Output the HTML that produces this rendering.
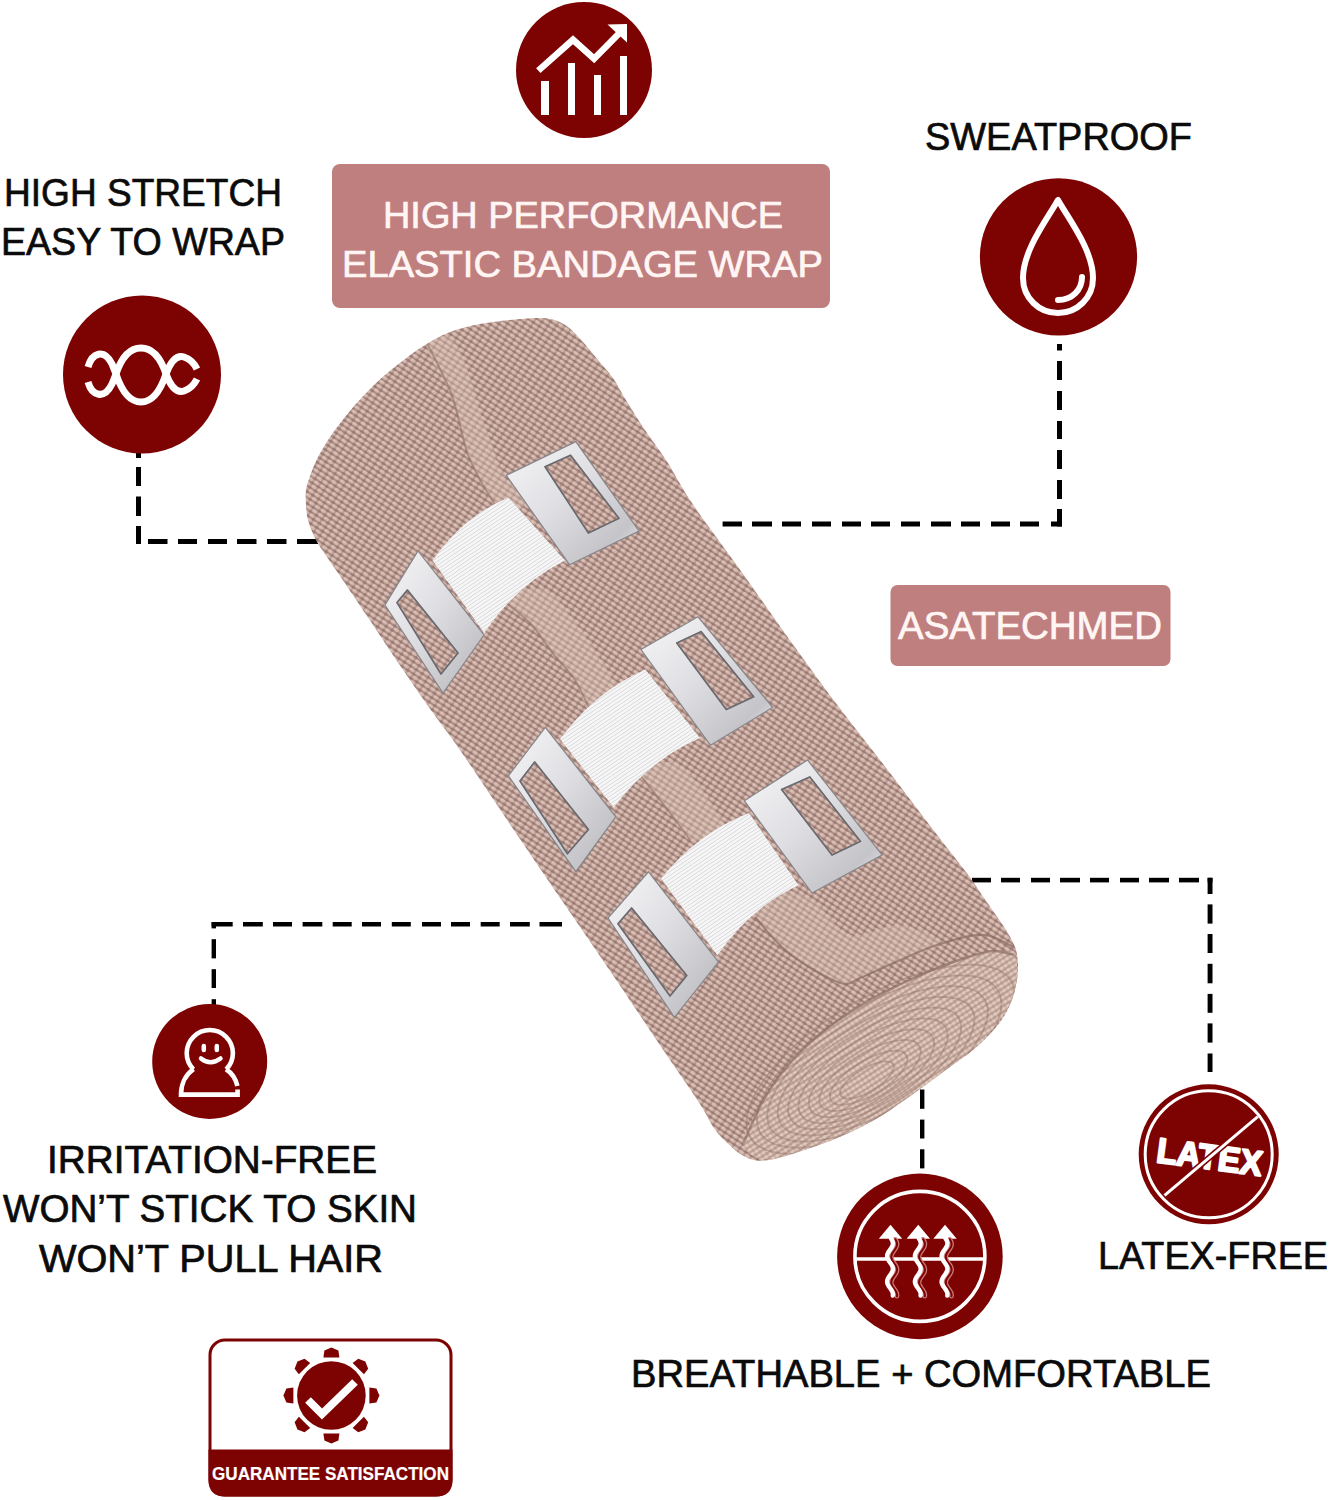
<!DOCTYPE html>
<html><head><meta charset="utf-8"><style>
html,body{margin:0;padding:0;background:#fff;width:1330px;height:1500px;overflow:hidden}
svg{display:block}
</style></head><body>
<svg width="1330" height="1500" viewBox="0 0 1330 1500">
<rect width="1330" height="1500" fill="#fff"/>
<rect x="136" y="440" width="5" height="18" fill="#000"/>
<rect x="136" y="467" width="5" height="19" fill="#000"/>
<rect x="136" y="496.5" width="5" height="19.5" fill="#000"/>
<rect x="136" y="526" width="5" height="18" fill="#000"/>
<rect x="148" y="539" width="19.5" height="5" fill="#000"/>
<rect x="178" y="539" width="19" height="5" fill="#000"/>
<rect x="208" y="539" width="19" height="5" fill="#000"/>
<rect x="237" y="539" width="19.5" height="5" fill="#000"/>
<rect x="267" y="539" width="19.5" height="5" fill="#000"/>
<rect x="297" y="539" width="21" height="5" fill="#000"/>
<rect x="1057" y="344" width="5" height="6.5" fill="#000"/>
<rect x="1057" y="361" width="5" height="19" fill="#000"/>
<rect x="1057" y="391" width="5" height="19" fill="#000"/>
<rect x="1057" y="421" width="5" height="18" fill="#000"/>
<rect x="1057" y="450" width="5" height="19" fill="#000"/>
<rect x="1057" y="480" width="5" height="19" fill="#000"/>
<rect x="1057" y="509" width="5" height="17.5" fill="#000"/>
<rect x="722.6" y="521.5" width="19.399999999999977" height="5.0" fill="#000"/>
<rect x="752" y="521.5" width="20" height="5.0" fill="#000"/>
<rect x="782" y="521.5" width="19" height="5.0" fill="#000"/>
<rect x="812" y="521.5" width="19" height="5.0" fill="#000"/>
<rect x="842" y="521.5" width="19" height="5.0" fill="#000"/>
<rect x="871" y="521.5" width="19" height="5.0" fill="#000"/>
<rect x="901" y="521.5" width="19" height="5.0" fill="#000"/>
<rect x="931" y="521.5" width="20" height="5.0" fill="#000"/>
<rect x="961" y="521.5" width="19" height="5.0" fill="#000"/>
<rect x="991" y="521.5" width="19" height="5.0" fill="#000"/>
<rect x="1020" y="521.5" width="19" height="5.0" fill="#000"/>
<rect x="1051" y="521.5" width="11" height="5.0" fill="#000"/>
<rect x="211.6" y="922" width="21.099999999999994" height="4.5" fill="#000"/>
<rect x="243" y="922" width="19.80000000000001" height="4.5" fill="#000"/>
<rect x="273" y="922" width="19" height="4.5" fill="#000"/>
<rect x="302.6" y="922" width="19.69999999999999" height="4.5" fill="#000"/>
<rect x="332.7" y="922" width="19.0" height="4.5" fill="#000"/>
<rect x="362" y="922" width="19" height="4.5" fill="#000"/>
<rect x="391.8" y="922" width="19.0" height="4.5" fill="#000"/>
<rect x="422" y="922" width="19" height="4.5" fill="#000"/>
<rect x="451" y="922" width="19" height="4.5" fill="#000"/>
<rect x="480.7" y="922" width="19.0" height="4.5" fill="#000"/>
<rect x="510" y="922" width="19.799999999999955" height="4.5" fill="#000"/>
<rect x="539.5" y="922" width="22.5" height="4.5" fill="#000"/>
<rect x="211.6" y="922" width="4.400000000000006" height="6.399999999999977" fill="#000"/>
<rect x="211.6" y="939.2" width="4.400000000000006" height="19.199999999999932" fill="#000"/>
<rect x="211.6" y="969.2" width="4.400000000000006" height="18.799999999999955" fill="#000"/>
<rect x="211.6" y="999.2" width="4.400000000000006" height="10.799999999999955" fill="#000"/>
<rect x="972" y="877.8" width="19" height="4.600000000000023" fill="#000"/>
<rect x="1001" y="877.8" width="19" height="4.600000000000023" fill="#000"/>
<rect x="1031" y="877.8" width="19" height="4.600000000000023" fill="#000"/>
<rect x="1060" y="877.8" width="20" height="4.600000000000023" fill="#000"/>
<rect x="1090" y="877.8" width="19" height="4.600000000000023" fill="#000"/>
<rect x="1120" y="877.8" width="19" height="4.600000000000023" fill="#000"/>
<rect x="1149" y="877.8" width="20" height="4.600000000000023" fill="#000"/>
<rect x="1179" y="877.8" width="20" height="4.600000000000023" fill="#000"/>
<rect x="1207.6" y="877.8" width="4.900000000000091" height="4.600000000000023" fill="#000"/>
<rect x="1207.6" y="877.8" width="4.900000000000091" height="16.200000000000045" fill="#000"/>
<rect x="1207.6" y="904.4" width="4.900000000000091" height="19.200000000000045" fill="#000"/>
<rect x="1207.6" y="934" width="4.900000000000091" height="19" fill="#000"/>
<rect x="1207.6" y="963.8" width="4.900000000000091" height="19.5" fill="#000"/>
<rect x="1207.6" y="993.9" width="4.900000000000091" height="18.899999999999977" fill="#000"/>
<rect x="1207.6" y="1023.4" width="4.900000000000091" height="19.199999999999932" fill="#000"/>
<rect x="1207.6" y="1053.5" width="4.900000000000091" height="18.5" fill="#000"/>
<rect x="920" y="1089.5" width="4.399999999999977" height="19.299999999999955" fill="#000"/>
<rect x="920" y="1119.6" width="4.399999999999977" height="18.90000000000009" fill="#000"/>
<rect x="920" y="1149.3" width="4.399999999999977" height="19.100000000000136" fill="#000"/>
<defs><pattern id="knit" width="7" height="5" patternUnits="userSpaceOnUse" patternTransform="rotate(33)"><rect width="7" height="5" fill="#977872"/><ellipse cx="3.5" cy="2.5" rx="3.3" ry="1.9" fill="#d3b5aa"/><ellipse cx="2.8" cy="2.0" rx="1.6" ry="0.8" fill="#e2cabe"/></pattern><pattern id="knit2" width="5" height="5" patternUnits="userSpaceOnUse" patternTransform="rotate(-33)"><rect width="5" height="5" fill="#b99c90"/><ellipse cx="2.5" cy="2.5" rx="2.4" ry="1.8" fill="#e0c8bc"/></pattern><pattern id="rib" width="4" height="3.2" patternUnits="userSpaceOnUse" patternTransform="rotate(-34)"><rect width="4" height="3.2" fill="#f6f6f7"/><rect y="2.4" width="4" height="0.8" fill="#d9d9dc"/></pattern><linearGradient id="metal" x1="0" y1="0" x2="1" y2="1"><stop offset="0" stop-color="#f6f6f8"/><stop offset="0.45" stop-color="#dfdfe3"/><stop offset="0.8" stop-color="#c4c4c9"/><stop offset="1" stop-color="#efeff2"/></linearGradient><clipPath id="silclip"><path d="M306.0,490.0 C306.5,486.0 307.6,483.2 309.0,479.0 C310.9,473.3 313.9,465.5 317.0,459.0 C320.2,452.5 324.0,446.2 328.0,440.0 C332.0,433.8 336.5,427.8 341.0,422.0 C345.5,416.2 350.1,410.6 355.0,405.0 C360.1,399.2 365.8,393.2 371.0,388.0 C375.7,383.3 379.8,379.5 385.0,375.0 C391.0,369.8 398.3,364.1 405.0,359.0 C411.6,354.1 417.8,349.4 425.0,345.0 C432.7,340.3 441.1,335.5 450.0,332.0 C459.4,328.4 469.9,326.0 480.0,324.0 C489.9,322.0 500.2,321.0 510.0,320.0 C519.5,319.0 530.1,317.9 538.0,318.0 C543.8,318.1 548.1,318.1 553.0,319.5 C558.1,321.0 563.3,323.6 568.0,327.0 C573.3,330.8 578.1,336.7 583.0,342.0 C588.1,347.6 593.0,354.0 598.0,360.0 C603.0,366.0 608.7,371.8 613.0,378.0 C617.1,383.8 619.3,389.1 623.5,396.0 C629.3,405.6 637.7,419.1 645.0,430.0 C651.9,440.4 659.0,449.1 666.0,460.0 C673.9,472.2 680.2,485.1 690.0,500.0 C703.1,519.9 721.8,544.3 738.8,568.0 C757.4,594.0 779.8,626.1 797.0,650.0 C810.5,668.8 820.0,682.0 833.5,700.0 C849.7,721.5 869.7,746.5 887.7,770.0 C905.8,793.5 926.8,821.5 941.8,841.0 C952.4,854.7 961.4,865.6 969.0,876.0 C974.9,884.1 979.1,890.9 984.0,898.0 C988.7,904.8 993.7,911.6 998.0,918.0 C1001.9,923.9 1005.9,929.4 1009.0,935.0 C1011.8,940.1 1014.5,945.0 1016.0,950.0 C1017.4,954.6 1017.8,959.2 1018.0,964.0 C1018.2,969.1 1017.9,974.4 1017.0,980.0 C1016.0,986.3 1014.4,993.6 1012.0,1000.0 C1009.7,1006.3 1006.6,1012.4 1003.0,1018.0 C999.3,1023.7 994.8,1028.8 990.0,1034.0 C984.9,1039.5 979.0,1045.0 973.0,1050.0 C967.0,1055.0 960.3,1059.3 954.0,1064.0 C947.7,1068.7 942.0,1072.9 935.0,1078.0 C926.4,1084.3 915.8,1092.2 906.0,1099.0 C896.2,1105.8 886.9,1112.8 876.0,1119.0 C864.1,1125.8 850.2,1132.5 837.0,1138.0 C824.1,1143.4 810.1,1148.2 798.0,1152.0 C787.7,1155.3 776.8,1158.8 769.0,1160.0 C763.9,1160.8 760.3,1161.2 756.0,1160.5 C751.3,1159.7 746.4,1157.6 742.0,1155.0 C737.3,1152.3 732.9,1148.4 728.6,1144.3 C723.9,1139.9 719.2,1135.2 715.0,1129.4 C710.1,1122.8 707.4,1115.7 701.5,1106.4 C691.8,1091.1 674.3,1066.5 661.0,1046.8 C648.1,1027.7 636.2,1009.6 623.0,990.0 C608.7,968.8 593.4,946.6 578.0,924.0 C561.6,900.0 545.8,877.1 527.4,850.0 C504.9,817.0 470.1,764.2 453.0,740.0 C444.4,727.8 440.7,723.8 433.0,713.0 C421.8,697.4 404.8,672.5 393.0,655.0 C383.3,640.8 375.8,629.1 367.0,616.0 C358.1,602.7 347.4,586.9 340.0,576.0 C334.9,568.5 331.1,563.2 327.0,557.0 C323.1,551.2 319.1,546.1 316.0,540.0 C312.8,533.8 309.6,526.3 308.0,520.0 C306.6,514.7 306.3,510.0 306.0,505.0 C305.7,500.0 305.4,494.6 306.0,490.0 Z"/></clipPath></defs>
<path d="M306.0,490.0 C306.5,486.0 307.6,483.2 309.0,479.0 C310.9,473.3 313.9,465.5 317.0,459.0 C320.2,452.5 324.0,446.2 328.0,440.0 C332.0,433.8 336.5,427.8 341.0,422.0 C345.5,416.2 350.1,410.6 355.0,405.0 C360.1,399.2 365.8,393.2 371.0,388.0 C375.7,383.3 379.8,379.5 385.0,375.0 C391.0,369.8 398.3,364.1 405.0,359.0 C411.6,354.1 417.8,349.4 425.0,345.0 C432.7,340.3 441.1,335.5 450.0,332.0 C459.4,328.4 469.9,326.0 480.0,324.0 C489.9,322.0 500.2,321.0 510.0,320.0 C519.5,319.0 530.1,317.9 538.0,318.0 C543.8,318.1 548.1,318.1 553.0,319.5 C558.1,321.0 563.3,323.6 568.0,327.0 C573.3,330.8 578.1,336.7 583.0,342.0 C588.1,347.6 593.0,354.0 598.0,360.0 C603.0,366.0 608.7,371.8 613.0,378.0 C617.1,383.8 619.3,389.1 623.5,396.0 C629.3,405.6 637.7,419.1 645.0,430.0 C651.9,440.4 659.0,449.1 666.0,460.0 C673.9,472.2 680.2,485.1 690.0,500.0 C703.1,519.9 721.8,544.3 738.8,568.0 C757.4,594.0 779.8,626.1 797.0,650.0 C810.5,668.8 820.0,682.0 833.5,700.0 C849.7,721.5 869.7,746.5 887.7,770.0 C905.8,793.5 926.8,821.5 941.8,841.0 C952.4,854.7 961.4,865.6 969.0,876.0 C974.9,884.1 979.1,890.9 984.0,898.0 C988.7,904.8 993.7,911.6 998.0,918.0 C1001.9,923.9 1005.9,929.4 1009.0,935.0 C1011.8,940.1 1014.5,945.0 1016.0,950.0 C1017.4,954.6 1017.8,959.2 1018.0,964.0 C1018.2,969.1 1017.9,974.4 1017.0,980.0 C1016.0,986.3 1014.4,993.6 1012.0,1000.0 C1009.7,1006.3 1006.6,1012.4 1003.0,1018.0 C999.3,1023.7 994.8,1028.8 990.0,1034.0 C984.9,1039.5 979.0,1045.0 973.0,1050.0 C967.0,1055.0 960.3,1059.3 954.0,1064.0 C947.7,1068.7 942.0,1072.9 935.0,1078.0 C926.4,1084.3 915.8,1092.2 906.0,1099.0 C896.2,1105.8 886.9,1112.8 876.0,1119.0 C864.1,1125.8 850.2,1132.5 837.0,1138.0 C824.1,1143.4 810.1,1148.2 798.0,1152.0 C787.7,1155.3 776.8,1158.8 769.0,1160.0 C763.9,1160.8 760.3,1161.2 756.0,1160.5 C751.3,1159.7 746.4,1157.6 742.0,1155.0 C737.3,1152.3 732.9,1148.4 728.6,1144.3 C723.9,1139.9 719.2,1135.2 715.0,1129.4 C710.1,1122.8 707.4,1115.7 701.5,1106.4 C691.8,1091.1 674.3,1066.5 661.0,1046.8 C648.1,1027.7 636.2,1009.6 623.0,990.0 C608.7,968.8 593.4,946.6 578.0,924.0 C561.6,900.0 545.8,877.1 527.4,850.0 C504.9,817.0 470.1,764.2 453.0,740.0 C444.4,727.8 440.7,723.8 433.0,713.0 C421.8,697.4 404.8,672.5 393.0,655.0 C383.3,640.8 375.8,629.1 367.0,616.0 C358.1,602.7 347.4,586.9 340.0,576.0 C334.9,568.5 331.1,563.2 327.0,557.0 C323.1,551.2 319.1,546.1 316.0,540.0 C312.8,533.8 309.6,526.3 308.0,520.0 C306.6,514.7 306.3,510.0 306.0,505.0 C305.7,500.0 305.4,494.6 306.0,490.0 Z" fill="url(#knit)"/>
<g clip-path="url(#silclip)">
<path d="M743.5,1142.8 C743.1,1133.1 756.1,1112.5 764.0,1099.0 C771.5,1086.2 779.5,1075.0 789.5,1063.6 C800.5,1051.1 814.6,1038.3 827.8,1027.8 C840.2,1017.9 852.1,1010.1 866.0,1002.0 C881.5,993.0 901.0,983.8 917.0,976.7 C930.6,970.6 942.6,965.6 955.6,961.3 C968.3,957.1 983.2,951.3 994.0,951.0 C1001.7,950.8 1010.2,951.0 1014.0,955.0 C1017.8,959.0 1017.2,968.0 1017.0,975.0 C1016.8,982.7 1014.9,991.5 1012.0,999.0 C1009.2,1006.5 1005.2,1012.8 1000.0,1020.0 C993.5,1029.0 984.5,1039.2 975.0,1048.0 C964.7,1057.6 952.4,1065.4 940.0,1075.0 C925.9,1085.9 910.7,1099.1 895.0,1110.0 C879.1,1121.1 861.6,1132.8 845.0,1141.0 C830.0,1148.4 813.7,1155.0 800.0,1158.0 C789.2,1160.4 778.9,1161.0 770.0,1160.0 C762.6,1159.2 754.5,1157.5 750.0,1154.0 C746.5,1151.2 743.7,1147.8 743.5,1142.8 Z" fill="url(#knit2)"/>
<ellipse cx="882.0" cy="1060.0" rx="152.0" ry="62.0" transform="rotate(-31 880 1062)" fill="none" stroke="#98786f" stroke-width="1.8" opacity="0.5"/>
<ellipse cx="879.5" cy="1061.2" rx="138.5" ry="56.4" transform="rotate(-31 880 1062)" fill="none" stroke="#98786f" stroke-width="1.8" opacity="0.5"/>
<ellipse cx="877.0" cy="1062.4" rx="125.0" ry="50.8" transform="rotate(-31 880 1062)" fill="none" stroke="#98786f" stroke-width="1.8" opacity="0.5"/>
<ellipse cx="874.5" cy="1063.6" rx="111.5" ry="45.2" transform="rotate(-31 880 1062)" fill="none" stroke="#98786f" stroke-width="1.8" opacity="0.5"/>
<ellipse cx="872.0" cy="1064.8" rx="98.0" ry="39.6" transform="rotate(-31 880 1062)" fill="none" stroke="#98786f" stroke-width="1.8" opacity="0.5"/>
<ellipse cx="869.5" cy="1066.0" rx="84.5" ry="34.0" transform="rotate(-31 880 1062)" fill="none" stroke="#98786f" stroke-width="1.8" opacity="0.5"/>
<ellipse cx="867.0" cy="1067.2" rx="71.0" ry="28.4" transform="rotate(-31 880 1062)" fill="none" stroke="#98786f" stroke-width="1.8" opacity="0.5"/>
<ellipse cx="864.5" cy="1068.4" rx="57.5" ry="22.8" transform="rotate(-31 880 1062)" fill="none" stroke="#98786f" stroke-width="1.8" opacity="0.5"/>
<ellipse cx="862.0" cy="1069.6" rx="44.0" ry="17.2" transform="rotate(-31 880 1062)" fill="none" stroke="#98786f" stroke-width="1.8" opacity="0.5"/>
<ellipse cx="859.5" cy="1070.8" rx="30.5" ry="11.6" transform="rotate(-31 880 1062)" fill="none" stroke="#98786f" stroke-width="1.8" opacity="0.5"/>
<path d="M743.5,1142.8 C750.3,1128.2 756.1,1112.5 764.0,1099.0 C771.5,1086.2 779.5,1075.0 789.5,1063.6 C800.5,1051.1 814.6,1038.3 827.8,1027.8 C840.2,1017.9 852.1,1010.1 866.0,1002.0 C881.5,993.0 901.0,983.8 917.0,976.7 C930.6,970.6 942.6,965.6 955.6,961.3 C968.3,957.1 983.2,951.3 994.0,951.0 C1001.7,950.8 1007.3,953.7 1014.0,955.0 " fill="none" stroke="#8d6e66" stroke-width="2.5" opacity="0.7"/>
<path d="M428.0,345.0 C424.7,354.4 446.5,380.2 452.0,395.0 C456.1,406.1 457.3,415.0 460.0,425.0 C462.7,435.0 464.3,445.2 468.0,455.0 C471.9,465.2 477.6,475.4 483.0,485.0 C488.3,494.4 492.2,509.5 500.0,512.0 C507.8,514.5 529.0,505.6 530.0,500.0 C531.0,494.3 511.5,487.3 505.0,478.0 C497.8,467.7 494.7,453.0 490.0,440.0 C485.1,426.4 480.6,411.8 476.0,398.0 C471.6,384.5 468.6,369.0 463.0,358.0 C458.5,349.2 453.3,337.6 447.0,336.0 C441.4,334.6 430.0,339.2 428.0,345.0 Z" fill="#dec6b8" opacity="0.38"/>
<path d="M428.0,345.0 C436.0,361.7 446.5,380.2 452.0,395.0 C456.1,406.1 457.3,415.0 460.0,425.0 C462.7,435.0 464.3,445.2 468.0,455.0 C471.9,465.2 477.6,475.4 483.0,485.0 C488.3,494.4 494.3,503.0 500.0,512.0 " fill="none" stroke="#8f7068" stroke-width="2" opacity="0.6"/>
<path d="M500.0,598.0 C498.5,603.5 521.2,613.7 530.0,623.0 C538.7,632.1 545.1,643.3 552.7,653.0 C560.1,662.3 568.7,670.4 575.0,680.0 C581.1,689.4 581.9,705.7 590.0,710.0 C598.4,714.4 621.9,710.8 625.0,705.0 C627.7,699.9 617.4,688.2 613.0,680.0 C608.5,671.6 603.7,663.8 598.0,655.0 C591.3,644.7 583.6,632.6 575.0,622.0 C566.0,610.9 557.3,594.1 545.0,590.0 C532.4,585.8 501.6,592.0 500.0,598.0 Z" fill="#dec6b8" opacity="0.38"/>
<path d="M500.0,598.0 C510.0,606.3 521.2,613.7 530.0,623.0 C538.7,632.1 545.1,643.3 552.7,653.0 C560.1,662.3 568.7,670.4 575.0,680.0 C581.1,689.4 585.0,700.0 590.0,710.0 " fill="none" stroke="#8f7068" stroke-width="2" opacity="0.6"/>
<path d="M640.0,775.0 C638.6,780.3 650.5,788.1 656.0,795.0 C661.8,802.4 668.2,810.4 674.0,818.0 C679.6,825.4 682.5,837.4 690.0,840.0 C698.7,843.0 722.2,836.6 725.0,830.0 C727.5,824.2 716.9,813.2 712.0,805.0 C706.9,796.5 701.7,787.2 695.0,780.0 C688.4,772.9 680.7,763.2 672.0,762.0 C662.5,760.7 641.6,768.8 640.0,775.0 Z" fill="#dec6b8" opacity="0.38"/>
<path d="M640.0,775.0 C645.3,781.7 650.5,788.1 656.0,795.0 C661.8,802.4 668.2,810.4 674.0,818.0 C679.6,825.4 684.7,832.7 690.0,840.0 " fill="none" stroke="#8f7068" stroke-width="2" opacity="0.6"/>
<path d="M745.0,905.0 C744.1,908.7 750.8,912.1 755.0,917.0 C761.9,925.0 772.9,939.0 783.0,948.0 C792.6,956.6 803.3,963.9 814.0,970.0 C824.3,975.8 837.5,984.0 846.0,984.0 C851.6,984.0 854.2,980.5 860.0,978.0 C869.6,973.8 885.0,966.6 898.0,961.0 C911.6,955.2 939.8,950.0 940.0,944.0 C940.2,938.0 914.4,926.8 900.0,925.0 C884.6,923.1 864.6,939.1 850.0,935.0 C835.3,930.9 825.0,907.5 812.0,900.0 C801.5,894.0 790.8,889.4 780.0,890.0 C768.5,890.6 746.4,899.2 745.0,905.0 Z" fill="#dec6b8" opacity="0.35"/>
<path d="M755.0,917.0 C764.3,927.3 772.9,939.0 783.0,948.0 C792.6,956.6 803.3,963.9 814.0,970.0 C824.3,975.8 837.5,984.0 846.0,984.0 C851.6,984.0 854.2,980.5 860.0,978.0 C869.6,973.8 885.0,966.6 898.0,961.0 C911.6,955.2 925.5,948.3 940.0,944.0 C954.5,939.6 971.6,933.7 985.0,935.0 C996.5,936.2 1005.7,943.7 1016.0,948.0 " fill="none" stroke="#8a6b63" stroke-width="2.2" opacity="0.7"/>
</g>
<path d="M432.6,560.5 Q463.5,516.0 508.4,497.4 L565,560.5 Q517.6,583.8 484.2,633 Z" fill="url(#rib)"/>
<path d="M560,739 Q595.6,691.2 645.3,669.5 L700,738 Q649.9,759.7 613.7,807.4 Z" fill="url(#rib)"/>
<path d="M661,878.6 Q698.0,832.8 749,813 L798.5,885.3 Q750.9,907.3 717.3,955.3 Z" fill="url(#rib)"/>
<path d="M506.3,475.3 L575.8,441.6 L639,531 L569.5,564.7 Z M545,466.8 L570.5,455.3 L619,518.4 L588.4,533 Z" fill="url(#metal)" fill-rule="evenodd" stroke="#85858a" stroke-width="1.2"/>
<path d="M545,466.8 L570.5,455.3 L619,518.4 L588.4,533 Z" fill="none" stroke="#6a6a70" stroke-width="1.6" stroke-linejoin="round"/>
<path d="M418,551 L484,635 L443,693 L385,605 Z M397,602.6 L407.4,590 L458,653 L441,674 Z" fill="url(#metal)" fill-rule="evenodd" stroke="#85858a" stroke-width="1.2"/>
<path d="M397,602.6 L407.4,590 L458,653 L441,674 Z" fill="none" stroke="#6a6a70" stroke-width="1.6" stroke-linejoin="round"/>
<path d="M641,649.5 L698,616.8 L772.6,707.4 L710.5,745.3 Z M676.8,643 L701,631.6 L753.7,696.8 L726.3,709.5 Z" fill="url(#metal)" fill-rule="evenodd" stroke="#85858a" stroke-width="1.2"/>
<path d="M676.8,643 L701,631.6 L753.7,696.8 L726.3,709.5 Z" fill="none" stroke="#6a6a70" stroke-width="1.6" stroke-linejoin="round"/>
<path d="M545.3,727.4 L615.8,816.8 L575.8,871.6 L508.4,775.8 Z M520,781 L534.7,762 L588.4,829.5 L567.4,853.7 Z" fill="url(#metal)" fill-rule="evenodd" stroke="#85858a" stroke-width="1.2"/>
<path d="M520,781 L534.7,762 L588.4,829.5 L567.4,853.7 Z" fill="none" stroke="#6a6a70" stroke-width="1.6" stroke-linejoin="round"/>
<path d="M744.4,800.8 L807.5,760 L882,855 L812,893 Z M781.6,789.5 L809.8,777 L860.5,841.4 L832,855 Z" fill="url(#metal)" fill-rule="evenodd" stroke="#85858a" stroke-width="1.2"/>
<path d="M781.6,789.5 L809.8,777 L860.5,841.4 L832,855 Z" fill="none" stroke="#6a6a70" stroke-width="1.6" stroke-linejoin="round"/>
<path d="M648.5,871.8 L718.4,962 L674.4,1017.3 L608,918 Z M618,923.7 L631.6,908 L686.8,975.6 L670,996 Z" fill="url(#metal)" fill-rule="evenodd" stroke="#85858a" stroke-width="1.2"/>
<path d="M618,923.7 L631.6,908 L686.8,975.6 L670,996 Z" fill="none" stroke="#6a6a70" stroke-width="1.6" stroke-linejoin="round"/>
<circle cx="584" cy="70" r="68" fill="#7d0303"/>
<rect x="541" y="81" width="8" height="34" fill="#fff"/>
<rect x="568" y="63" width="7" height="52" fill="#fff"/>
<rect x="594" y="75" width="7" height="40" fill="#fff"/>
<rect x="620" y="56" width="7" height="59" fill="#fff"/>
<polyline points="538.3,70.6 573,39.8 594.1,58.8 619,33.5" fill="none" stroke="#fff" stroke-width="6.6" stroke-linejoin="miter"/>
<path d="M607.5,24.5 L627,24 L627,42.5 Z" fill="#fff"/>
<circle cx="142" cy="374.5" r="79" fill="#7d0303"/>
<path d="M88,367 C92,353 104,348 112,364 L116,374 C122,392 130,402 141,402 C152,402 160,392 166,374 C172,358 178,355 184,357 C190,359 194,363 197,369" fill="none" stroke="#fff" stroke-width="7"/>
<path d="M88,382 C92,396 104,400 112,384 L116,374 C122,356 130,348 141,348 C152,348 160,356 166,374 C172,390 178,393 184,391 C190,389 194,385 197,379" fill="none" stroke="#fff" stroke-width="7"/>
<circle cx="1058.5" cy="256.8" r="78.6" fill="#7d0303"/>
<path d="M1058,200 C1048,218 1023,250 1023,278 C1023,298 1039,313 1058,313 C1077,313 1093,298 1093,278 C1093,250 1068,218 1058,200 Z" fill="none" stroke="#fff" stroke-width="6" stroke-linejoin="round"/>
<path d="M1082,277 C1082,290 1072,300 1058,300" fill="none" stroke="#fff" stroke-width="6" stroke-linecap="round"/>
<circle cx="209.7" cy="1061.5" r="57.5" fill="#7d0303"/>
<path d="M193.4,1069.4 A23.1,23.1 0 1 1 226.2,1069.4" fill="none" stroke="#fff" stroke-width="4.6"/>
<path d="M193.6,1069.2 C185,1075 181,1085 181,1094.6 L237.6,1094.6 L237.6,1089.5" fill="none" stroke="#fff" stroke-width="4.6" stroke-linejoin="miter"/>
<path d="M226,1069.2 C232,1073 236,1080 237.4,1086" fill="none" stroke="#fff" stroke-width="4.6"/>
<line x1="203.8" y1="1046" x2="203.8" y2="1050" stroke="#fff" stroke-width="4.5" stroke-linecap="round"/>
<line x1="216.8" y1="1046" x2="216.8" y2="1050" stroke="#fff" stroke-width="4.5" stroke-linecap="round"/>
<path d="M201,1058.5 Q210.5,1066 220.5,1058.5" fill="none" stroke="#fff" stroke-width="4.5" stroke-linecap="round"/>
<circle cx="1208.7" cy="1154.3" r="70" fill="#7d0303"/>
<circle cx="1208.7" cy="1154.3" r="63.5" fill="none" stroke="#fff" stroke-width="3"/>
<line x1="1257.8" y1="1116.6" x2="1164.6" y2="1195.4" stroke="#fff" stroke-width="3"/>
<text x="0" y="0" transform="translate(1155.5 1162) rotate(7.5)" font-family="Liberation Sans" font-weight="bold" font-size="35" fill="#fff" stroke="#fff" stroke-width="2.2" stroke-linejoin="round" textLength="106" lengthAdjust="spacingAndGlyphs">LATEX</text>
<line x1="1257.8" y1="1116.6" x2="1164.6" y2="1195.4" stroke="#7d0303" stroke-width="6"/>
<line x1="1257.8" y1="1116.6" x2="1164.6" y2="1195.4" stroke="#fff" stroke-width="3"/>
<circle cx="919.9" cy="1256.4" r="82.8" fill="#7d0303"/>
<circle cx="919.9" cy="1256.4" r="65" fill="none" stroke="#fff" stroke-width="3.6"/>
<line x1="855" y1="1259" x2="985" y2="1259" stroke="#fff" stroke-width="3.6"/>
<path d="M878.8,1238.8 L890.5,1224.8 L902.2,1238.8 Z" fill="#fff"/>
<path d="M891.05,1238.50 L891.68,1239.50 L892.20,1240.50 L892.60,1241.50 L892.83,1242.50 L892.90,1243.50 L892.79,1244.50 L892.51,1245.50 L892.08,1246.50 L891.53,1247.50 L890.88,1248.50 L890.18,1249.50 L889.47,1250.50 L888.79,1251.50 L888.18,1252.50 L887.69,1253.50 L887.33,1254.50 L887.13,1255.50 L887.11,1256.50 L887.26,1257.50 L887.58,1258.50 L888.05,1259.50 L888.63,1260.50 L889.29,1261.50 L890.00,1262.50 L890.71,1263.50 L891.37,1264.50 L891.95,1265.50 L892.42,1266.50 L892.74,1267.50 L892.89,1268.50 L892.87,1269.50 L892.67,1270.50 L892.31,1271.50 L891.82,1272.50 L891.21,1273.50 L890.53,1274.50 L889.82,1275.50 L889.12,1276.50 L888.47,1277.50 L887.92,1278.50 L887.49,1279.50 L887.21,1280.50 L887.10,1281.50 L887.17,1282.50 L887.40,1283.50 L887.80,1284.50 L888.32,1285.50 L888.95,1286.50 L889.64,1287.50 L890.36,1288.50 L891.05,1289.50 L891.68,1290.50 L892.20,1291.50 L892.60,1292.50 L892.83,1293.50 L892.90,1294.50 L892.79,1295.50" transform="translate(4.2,0.8)" fill="none" stroke="#c97a7a" stroke-width="4.6" stroke-linecap="round"/>
<path d="M891.05,1238.50 L891.68,1239.50 L892.20,1240.50 L892.60,1241.50 L892.83,1242.50 L892.90,1243.50 L892.79,1244.50 L892.51,1245.50 L892.08,1246.50 L891.53,1247.50 L890.88,1248.50 L890.18,1249.50 L889.47,1250.50 L888.79,1251.50 L888.18,1252.50 L887.69,1253.50 L887.33,1254.50 L887.13,1255.50 L887.11,1256.50 L887.26,1257.50 L887.58,1258.50 L888.05,1259.50 L888.63,1260.50 L889.29,1261.50 L890.00,1262.50 L890.71,1263.50 L891.37,1264.50 L891.95,1265.50 L892.42,1266.50 L892.74,1267.50 L892.89,1268.50 L892.87,1269.50 L892.67,1270.50 L892.31,1271.50 L891.82,1272.50 L891.21,1273.50 L890.53,1274.50 L889.82,1275.50 L889.12,1276.50 L888.47,1277.50 L887.92,1278.50 L887.49,1279.50 L887.21,1280.50 L887.10,1281.50 L887.17,1282.50 L887.40,1283.50 L887.80,1284.50 L888.32,1285.50 L888.95,1286.50 L889.64,1287.50 L890.36,1288.50 L891.05,1289.50 L891.68,1290.50 L892.20,1291.50 L892.60,1292.50 L892.83,1293.50 L892.90,1294.50 L892.79,1295.50" transform="translate(4.2,0.8)" fill="none" stroke="#7d0303" stroke-width="2" stroke-linecap="round"/>
<path d="M891.05,1238.50 L891.68,1239.50 L892.20,1240.50 L892.60,1241.50 L892.83,1242.50 L892.90,1243.50 L892.79,1244.50 L892.51,1245.50 L892.08,1246.50 L891.53,1247.50 L890.88,1248.50 L890.18,1249.50 L889.47,1250.50 L888.79,1251.50 L888.18,1252.50 L887.69,1253.50 L887.33,1254.50 L887.13,1255.50 L887.11,1256.50 L887.26,1257.50 L887.58,1258.50 L888.05,1259.50 L888.63,1260.50 L889.29,1261.50 L890.00,1262.50 L890.71,1263.50 L891.37,1264.50 L891.95,1265.50 L892.42,1266.50 L892.74,1267.50 L892.89,1268.50 L892.87,1269.50 L892.67,1270.50 L892.31,1271.50 L891.82,1272.50 L891.21,1273.50 L890.53,1274.50 L889.82,1275.50 L889.12,1276.50 L888.47,1277.50 L887.92,1278.50 L887.49,1279.50 L887.21,1280.50 L887.10,1281.50 L887.17,1282.50 L887.40,1283.50 L887.80,1284.50 L888.32,1285.50 L888.95,1286.50 L889.64,1287.50 L890.36,1288.50 L891.05,1289.50 L891.68,1290.50 L892.20,1291.50 L892.60,1292.50 L892.83,1293.50 L892.90,1294.50 L892.79,1295.50" fill="none" stroke="#fff" stroke-width="4.4" stroke-linecap="round" stroke-linejoin="round"/>
<path d="M906.5999999999999,1238.8 L918.3,1224.8 L930.0,1238.8 Z" fill="#fff"/>
<path d="M918.85,1238.50 L919.48,1239.50 L920.00,1240.50 L920.40,1241.50 L920.63,1242.50 L920.70,1243.50 L920.59,1244.50 L920.31,1245.50 L919.88,1246.50 L919.33,1247.50 L918.68,1248.50 L917.98,1249.50 L917.27,1250.50 L916.59,1251.50 L915.98,1252.50 L915.49,1253.50 L915.13,1254.50 L914.93,1255.50 L914.91,1256.50 L915.06,1257.50 L915.38,1258.50 L915.85,1259.50 L916.43,1260.50 L917.09,1261.50 L917.80,1262.50 L918.51,1263.50 L919.17,1264.50 L919.75,1265.50 L920.22,1266.50 L920.54,1267.50 L920.69,1268.50 L920.67,1269.50 L920.47,1270.50 L920.11,1271.50 L919.62,1272.50 L919.01,1273.50 L918.33,1274.50 L917.62,1275.50 L916.92,1276.50 L916.27,1277.50 L915.72,1278.50 L915.29,1279.50 L915.01,1280.50 L914.90,1281.50 L914.97,1282.50 L915.20,1283.50 L915.60,1284.50 L916.12,1285.50 L916.75,1286.50 L917.44,1287.50 L918.16,1288.50 L918.85,1289.50 L919.48,1290.50 L920.00,1291.50 L920.40,1292.50 L920.63,1293.50 L920.70,1294.50 L920.59,1295.50" transform="translate(4.2,0.8)" fill="none" stroke="#c97a7a" stroke-width="4.6" stroke-linecap="round"/>
<path d="M918.85,1238.50 L919.48,1239.50 L920.00,1240.50 L920.40,1241.50 L920.63,1242.50 L920.70,1243.50 L920.59,1244.50 L920.31,1245.50 L919.88,1246.50 L919.33,1247.50 L918.68,1248.50 L917.98,1249.50 L917.27,1250.50 L916.59,1251.50 L915.98,1252.50 L915.49,1253.50 L915.13,1254.50 L914.93,1255.50 L914.91,1256.50 L915.06,1257.50 L915.38,1258.50 L915.85,1259.50 L916.43,1260.50 L917.09,1261.50 L917.80,1262.50 L918.51,1263.50 L919.17,1264.50 L919.75,1265.50 L920.22,1266.50 L920.54,1267.50 L920.69,1268.50 L920.67,1269.50 L920.47,1270.50 L920.11,1271.50 L919.62,1272.50 L919.01,1273.50 L918.33,1274.50 L917.62,1275.50 L916.92,1276.50 L916.27,1277.50 L915.72,1278.50 L915.29,1279.50 L915.01,1280.50 L914.90,1281.50 L914.97,1282.50 L915.20,1283.50 L915.60,1284.50 L916.12,1285.50 L916.75,1286.50 L917.44,1287.50 L918.16,1288.50 L918.85,1289.50 L919.48,1290.50 L920.00,1291.50 L920.40,1292.50 L920.63,1293.50 L920.70,1294.50 L920.59,1295.50" transform="translate(4.2,0.8)" fill="none" stroke="#7d0303" stroke-width="2" stroke-linecap="round"/>
<path d="M918.85,1238.50 L919.48,1239.50 L920.00,1240.50 L920.40,1241.50 L920.63,1242.50 L920.70,1243.50 L920.59,1244.50 L920.31,1245.50 L919.88,1246.50 L919.33,1247.50 L918.68,1248.50 L917.98,1249.50 L917.27,1250.50 L916.59,1251.50 L915.98,1252.50 L915.49,1253.50 L915.13,1254.50 L914.93,1255.50 L914.91,1256.50 L915.06,1257.50 L915.38,1258.50 L915.85,1259.50 L916.43,1260.50 L917.09,1261.50 L917.80,1262.50 L918.51,1263.50 L919.17,1264.50 L919.75,1265.50 L920.22,1266.50 L920.54,1267.50 L920.69,1268.50 L920.67,1269.50 L920.47,1270.50 L920.11,1271.50 L919.62,1272.50 L919.01,1273.50 L918.33,1274.50 L917.62,1275.50 L916.92,1276.50 L916.27,1277.50 L915.72,1278.50 L915.29,1279.50 L915.01,1280.50 L914.90,1281.50 L914.97,1282.50 L915.20,1283.50 L915.60,1284.50 L916.12,1285.50 L916.75,1286.50 L917.44,1287.50 L918.16,1288.50 L918.85,1289.50 L919.48,1290.50 L920.00,1291.50 L920.40,1292.50 L920.63,1293.50 L920.70,1294.50 L920.59,1295.50" fill="none" stroke="#fff" stroke-width="4.4" stroke-linecap="round" stroke-linejoin="round"/>
<path d="M933.3,1238.8 L945,1224.8 L956.7,1238.8 Z" fill="#fff"/>
<path d="M945.55,1238.50 L946.18,1239.50 L946.70,1240.50 L947.10,1241.50 L947.33,1242.50 L947.40,1243.50 L947.29,1244.50 L947.01,1245.50 L946.58,1246.50 L946.03,1247.50 L945.38,1248.50 L944.68,1249.50 L943.97,1250.50 L943.29,1251.50 L942.68,1252.50 L942.19,1253.50 L941.83,1254.50 L941.63,1255.50 L941.61,1256.50 L941.76,1257.50 L942.08,1258.50 L942.55,1259.50 L943.13,1260.50 L943.79,1261.50 L944.50,1262.50 L945.21,1263.50 L945.87,1264.50 L946.45,1265.50 L946.92,1266.50 L947.24,1267.50 L947.39,1268.50 L947.37,1269.50 L947.17,1270.50 L946.81,1271.50 L946.32,1272.50 L945.71,1273.50 L945.03,1274.50 L944.32,1275.50 L943.62,1276.50 L942.97,1277.50 L942.42,1278.50 L941.99,1279.50 L941.71,1280.50 L941.60,1281.50 L941.67,1282.50 L941.90,1283.50 L942.30,1284.50 L942.82,1285.50 L943.45,1286.50 L944.14,1287.50 L944.86,1288.50 L945.55,1289.50 L946.18,1290.50 L946.70,1291.50 L947.10,1292.50 L947.33,1293.50 L947.40,1294.50 L947.29,1295.50" transform="translate(4.2,0.8)" fill="none" stroke="#c97a7a" stroke-width="4.6" stroke-linecap="round"/>
<path d="M945.55,1238.50 L946.18,1239.50 L946.70,1240.50 L947.10,1241.50 L947.33,1242.50 L947.40,1243.50 L947.29,1244.50 L947.01,1245.50 L946.58,1246.50 L946.03,1247.50 L945.38,1248.50 L944.68,1249.50 L943.97,1250.50 L943.29,1251.50 L942.68,1252.50 L942.19,1253.50 L941.83,1254.50 L941.63,1255.50 L941.61,1256.50 L941.76,1257.50 L942.08,1258.50 L942.55,1259.50 L943.13,1260.50 L943.79,1261.50 L944.50,1262.50 L945.21,1263.50 L945.87,1264.50 L946.45,1265.50 L946.92,1266.50 L947.24,1267.50 L947.39,1268.50 L947.37,1269.50 L947.17,1270.50 L946.81,1271.50 L946.32,1272.50 L945.71,1273.50 L945.03,1274.50 L944.32,1275.50 L943.62,1276.50 L942.97,1277.50 L942.42,1278.50 L941.99,1279.50 L941.71,1280.50 L941.60,1281.50 L941.67,1282.50 L941.90,1283.50 L942.30,1284.50 L942.82,1285.50 L943.45,1286.50 L944.14,1287.50 L944.86,1288.50 L945.55,1289.50 L946.18,1290.50 L946.70,1291.50 L947.10,1292.50 L947.33,1293.50 L947.40,1294.50 L947.29,1295.50" transform="translate(4.2,0.8)" fill="none" stroke="#7d0303" stroke-width="2" stroke-linecap="round"/>
<path d="M945.55,1238.50 L946.18,1239.50 L946.70,1240.50 L947.10,1241.50 L947.33,1242.50 L947.40,1243.50 L947.29,1244.50 L947.01,1245.50 L946.58,1246.50 L946.03,1247.50 L945.38,1248.50 L944.68,1249.50 L943.97,1250.50 L943.29,1251.50 L942.68,1252.50 L942.19,1253.50 L941.83,1254.50 L941.63,1255.50 L941.61,1256.50 L941.76,1257.50 L942.08,1258.50 L942.55,1259.50 L943.13,1260.50 L943.79,1261.50 L944.50,1262.50 L945.21,1263.50 L945.87,1264.50 L946.45,1265.50 L946.92,1266.50 L947.24,1267.50 L947.39,1268.50 L947.37,1269.50 L947.17,1270.50 L946.81,1271.50 L946.32,1272.50 L945.71,1273.50 L945.03,1274.50 L944.32,1275.50 L943.62,1276.50 L942.97,1277.50 L942.42,1278.50 L941.99,1279.50 L941.71,1280.50 L941.60,1281.50 L941.67,1282.50 L941.90,1283.50 L942.30,1284.50 L942.82,1285.50 L943.45,1286.50 L944.14,1287.50 L944.86,1288.50 L945.55,1289.50 L946.18,1290.50 L946.70,1291.50 L947.10,1292.50 L947.33,1293.50 L947.40,1294.50 L947.29,1295.50" fill="none" stroke="#fff" stroke-width="4.4" stroke-linecap="round" stroke-linejoin="round"/>
<rect x="332" y="164" width="498" height="144" rx="8" fill="#c07f7f"/>
<rect x="890.5" y="585" width="280" height="81" rx="7" fill="#c07f7f"/>
<rect x="210" y="1340" width="241" height="155" rx="15" fill="#fff" stroke="#7d0303" stroke-width="3"/>
<path d="M208.5,1449.6 L452.5,1449.6 L452.5,1480 Q452.5,1496.5 436,1496.5 L225,1496.5 Q208.5,1496.5 208.5,1480 Z" fill="#7d0303"/>
<circle cx="331.4" cy="1395.5" r="34.3" fill="#7d0303"/>
<path d="M-8,4 L-7,-3 L0,-6 L7,-3 L8,4 Z" transform="translate(331.4 1395.5) rotate(0) translate(0 -42)" fill="#7d0303"/>
<path d="M-8,4 L-7,-3 L0,-6 L7,-3 L8,4 Z" transform="translate(331.4 1395.5) rotate(45) translate(0 -42)" fill="#7d0303"/>
<path d="M-8,4 L-7,-3 L0,-6 L7,-3 L8,4 Z" transform="translate(331.4 1395.5) rotate(90) translate(0 -42)" fill="#7d0303"/>
<path d="M-8,4 L-7,-3 L0,-6 L7,-3 L8,4 Z" transform="translate(331.4 1395.5) rotate(135) translate(0 -42)" fill="#7d0303"/>
<path d="M-8,4 L-7,-3 L0,-6 L7,-3 L8,4 Z" transform="translate(331.4 1395.5) rotate(180) translate(0 -42)" fill="#7d0303"/>
<path d="M-8,4 L-7,-3 L0,-6 L7,-3 L8,4 Z" transform="translate(331.4 1395.5) rotate(225) translate(0 -42)" fill="#7d0303"/>
<path d="M-8,4 L-7,-3 L0,-6 L7,-3 L8,4 Z" transform="translate(331.4 1395.5) rotate(270) translate(0 -42)" fill="#7d0303"/>
<path d="M-8,4 L-7,-3 L0,-6 L7,-3 L8,4 Z" transform="translate(331.4 1395.5) rotate(315) translate(0 -42)" fill="#7d0303"/>
<polyline points="108,70 122,84 155,52" fill="none" stroke="#fff" stroke-width="8" transform="translate(200 1330)"/>
<text x="4" y="206" font-family="Liberation Sans" font-size="39" font-weight="normal" fill="#0b0b0b" stroke="#0b0b0b" stroke-width="0.7" textLength="278" lengthAdjust="spacingAndGlyphs">HIGH STRETCH</text>
<text x="1" y="255" font-family="Liberation Sans" font-size="39" font-weight="normal" fill="#0b0b0b" stroke="#0b0b0b" stroke-width="0.7" textLength="284" lengthAdjust="spacingAndGlyphs">EASY TO WRAP</text>
<text x="383" y="227.5" font-family="Liberation Sans" font-size="37.5" font-weight="normal" fill="#fff6f4" stroke="#fff6f4" stroke-width="0.7" textLength="400" lengthAdjust="spacingAndGlyphs">HIGH PERFORMANCE</text>
<text x="342" y="277" font-family="Liberation Sans" font-size="37.5" font-weight="normal" fill="#fff6f4" stroke="#fff6f4" stroke-width="0.7" textLength="481" lengthAdjust="spacingAndGlyphs">ELASTIC BANDAGE WRAP</text>
<text x="925" y="149.5" font-family="Liberation Sans" font-size="39" font-weight="normal" fill="#0b0b0b" stroke="#0b0b0b" stroke-width="0.7" textLength="267" lengthAdjust="spacingAndGlyphs">SWEATPROOF</text>
<text x="898" y="638.5" font-family="Liberation Sans" font-size="39" font-weight="normal" fill="#fff6f4" stroke="#fff6f4" stroke-width="0.7" textLength="264" lengthAdjust="spacingAndGlyphs">ASATECHMED</text>
<text x="47" y="1173" font-family="Liberation Sans" font-size="38.5" font-weight="normal" fill="#0b0b0b" stroke="#0b0b0b" stroke-width="0.7" textLength="330" lengthAdjust="spacingAndGlyphs">IRRITATION-FREE</text>
<text x="3" y="1222" font-family="Liberation Sans" font-size="38.5" font-weight="normal" fill="#0b0b0b" stroke="#0b0b0b" stroke-width="0.7" textLength="414" lengthAdjust="spacingAndGlyphs">WON’T STICK TO SKIN</text>
<text x="39" y="1272" font-family="Liberation Sans" font-size="38.5" font-weight="normal" fill="#0b0b0b" stroke="#0b0b0b" stroke-width="0.7" textLength="344" lengthAdjust="spacingAndGlyphs">WON’T PULL HAIR</text>
<text x="1098" y="1268.5" font-family="Liberation Sans" font-size="38" font-weight="normal" fill="#0b0b0b" stroke="#0b0b0b" stroke-width="0.7" textLength="230" lengthAdjust="spacingAndGlyphs">LATEX-FREE</text>
<text x="631" y="1387" font-family="Liberation Sans" font-size="39.5" font-weight="normal" fill="#0b0b0b" stroke="#0b0b0b" stroke-width="0.7" textLength="580" lengthAdjust="spacingAndGlyphs">BREATHABLE + COMFORTABLE</text>
<text x="212" y="1479.6" font-family="Liberation Sans" font-size="18.6" font-weight="bold" fill="#fff" stroke="#fff" stroke-width="0.2" textLength="237" lengthAdjust="spacingAndGlyphs">GUARANTEE SATISFACTION</text>
</svg></body></html>
